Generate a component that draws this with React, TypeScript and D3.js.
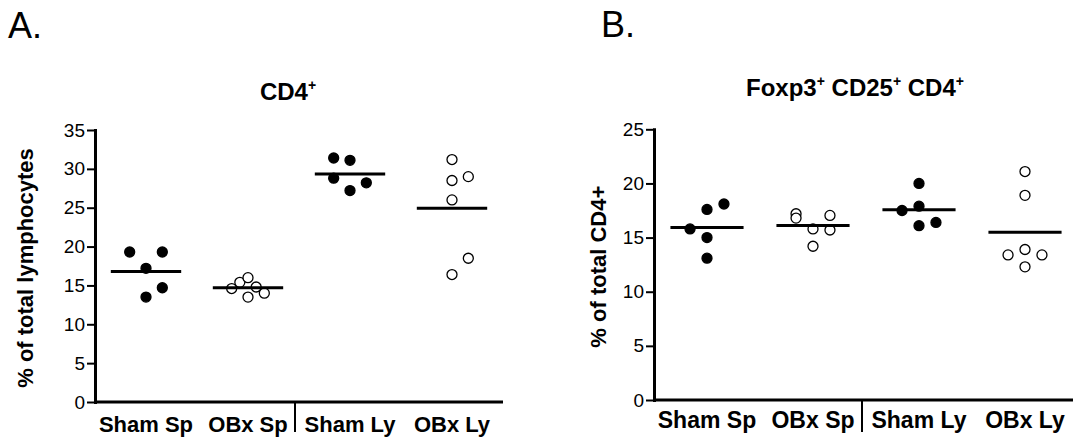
import React, { useEffect, useRef } from 'react';
import * as d3 from 'd3';

const WIDTH = 1073;
const HEIGHT = 438;
const FONT = '"Liberation Sans", Arial, Helvetica, sans-serif';

const GROUPS = ['Sham Sp', 'OBx Sp', 'Sham Ly', 'OBx Ly'];
const HOLLOW = [false, true, false, true];

// panel A: CD4+ (% of total lymphocytes)
const CD4_SHAM_SP = [19.3, 19.3, 17.2, 13.5, 14.7];
const CD4_OBX_SP = [14.6, 15.4, 16.0, 14.8, 14.0, 13.5];
const CD4_SHAM_LY = [31.4, 31.1, 28.8, 28.2, 27.2];
const CD4_OBX_LY = [31.2, 29.0, 28.5, 26.0, 18.5, 16.4];
// horizontal slot of each point (Prism-style spreading)
const CD4_SHAM_SP_SLOT = [-2, 2, 0, 0, 2];
const CD4_OBX_SP_SLOT = [-2, -1, 0, 1, 2, 0];
const CD4_SHAM_LY_SLOT = [-2, 0, -2, 2, 0];
const CD4_OBX_LY_SLOT = [0, 2, 0, 0, 2, 0];

// panel B: Foxp3+ CD25+ CD4+ (% of total CD4+)
const TREG_SHAM_SP = [15.8, 17.6, 18.1, 15.0, 13.1];
const TREG_OBX_SP = [17.2, 16.8, 17.05, 15.8, 15.7, 14.2];
const TREG_SHAM_LY = [20.0, 17.9, 17.5, 16.1, 16.4];
const TREG_OBX_LY = [21.1, 18.9, 13.9, 13.4, 13.4, 12.3];
const TREG_SHAM_SP_SLOT = [-2, 0, 2, 0, 0];
const TREG_OBX_SP_SLOT = [-2, -2, 2, 0, 2, 0];
const TREG_SHAM_LY_SLOT = [0, 0, -2, 0, 2];
const TREG_OBX_LY_SLOT = [0, 0, 0, -2, 2, 0];

const CD4_TICKS = [0, 5, 10, 15, 20, 25, 30, 35];
const TREG_TICKS = [0, 5, 10, 15, 20, 25];

const PANELS = [
  {
    letter: 'A.', letterX: 8, letterY: 38,
    title: [['CD4', '+']], titleY: 100,
    yLabel: '% of total lymphocytes', yLabelX: 33,
    x0: 95, x1: 503, top: 130, bottom: 402,
    ticks: CD4_TICKS, xFont: 22, xLabelDy: 30,
    values: [CD4_SHAM_SP, CD4_OBX_SP, CD4_SHAM_LY, CD4_OBX_LY],
    slots: [CD4_SHAM_SP_SLOT, CD4_OBX_SP_SLOT, CD4_SHAM_LY_SLOT, CD4_OBX_LY_SLOT],
  },
  {
    letter: 'B.', letterX: 601, letterY: 37,
    title: [['Foxp3', '+'], [' CD25', '+'], [' CD4', '+']], titleY: 96,
    yLabel: '% of total CD4+', yLabelX: 606,
    x0: 654, x1: 1078, top: 129.3, bottom: 400,
    ticks: TREG_TICKS, xFont: 23, xLabelDy: 28,
    values: [TREG_SHAM_SP, TREG_OBX_SP, TREG_SHAM_LY, TREG_OBX_LY],
    slots: [TREG_SHAM_SP_SLOT, TREG_OBX_SP_SLOT, TREG_SHAM_LY_SLOT, TREG_OBX_LY_SLOT],
  },
];

const drawPanel = (svg, p) => {
  const x = d3.scaleBand().domain(GROUPS).range([p.x0, p.x1]);
  const y = d3.scaleLinear()
    .domain([0, d3.max(p.ticks)])
    .range([p.bottom, p.top]);
  const bw = x.bandwidth();
  const slot = bw * 0.08;

  const g = svg.append('g');

  g.append('text')
    .attr('x', p.letterX)
    .attr('y', p.letterY)
    .attr('font-size', 36)
    .text(p.letter);

  // title with superscripts
  const title = g.append('text')
    .attr('x', (p.x0 + p.x1) / 2 - 11)
    .attr('y', p.titleY)
    .attr('text-anchor', 'middle')
    .attr('font-size', 24)
    .attr('font-weight', 'bold')
    .style('white-space', 'pre');
  p.title.forEach(([base, sup], i) => {
    title.append('tspan').attr('dy', i === 0 ? 0 : 10).text(base);
    title.append('tspan').attr('dy', -10).attr('font-size', 14).text(sup);
  });

  g.append('text')
    .attr('transform', `translate(${p.yLabelX}, ${(p.top + p.bottom) / 2 + 2}) rotate(-90)`)
    .attr('text-anchor', 'middle')
    .attr('font-size', 22)
    .attr('font-weight', 'bold')
    .text(p.yLabel);

  g.append('g')
    .attr('transform', `translate(${p.x0}, 0)`)
    .call(d3.axisLeft(y)
      .tickValues(p.ticks)
      .tickSize(8)
      .tickSizeOuter(0)
      .tickPadding(2)
    )
    .call(a => a.select('.domain').attr('stroke-width', 3).attr('stroke-linecap', 'square'))
    .call(a => a.selectAll('.tick line').attr('stroke-width', 2))
    .call(a => a.selectAll('.tick text')
      .attr('font-size', 19)
      .attr('font-family', FONT)
      .attr('fill', '#000'));

  g.append('line')
    .attr('x1', p.x0)
    .attr('x2', p.x1)
    .attr('y1', y(0))
    .attr('y2', y(0))
    .attr('stroke', '#000')
    .attr('stroke-width', 3);

  // divider between spleen and lymph node groups
  const divX = x(GROUPS[2]) - 4;
  g.append('line')
    .attr('x1', divX)
    .attr('x2', divX)
    .attr('y1', y(0))
    .attr('y2', 432)
    .attr('stroke', '#000')
    .attr('stroke-width', 2);

  g.selectAll('.xlabel')
    .data(GROUPS)
    .enter()
    .append('text')
    .attr('x', d => x(d) + bw / 2)
    .attr('y', y(0) + p.xLabelDy)
    .attr('text-anchor', 'middle')
    .attr('font-size', p.xFont)
    .attr('font-weight', 'bold')
    .text(d => d);

  GROUPS.forEach((grp, i) => {
    const cx = x(grp) + bw / 2;
    const vals = p.values[i];
    const pts = vals.map((v, j) => ({ v, s: p.slots[i][j] }));

    g.selectAll(`.pt${i}`)
      .data(pts)
      .enter()
      .append('circle')
      .attr('cx', d => cx + d.s * slot)
      .attr('cy', d => y(d.v))
      .attr('r', 5)
      .attr('fill', HOLLOW[i] ? '#fff' : '#000')
      .attr('stroke', '#000')
      .attr('stroke-width', 1.3);

    const m = d3.mean(vals);
    g.append('line')
      .attr('x1', cx - bw * 0.345)
      .attr('x2', cx + bw * 0.345)
      .attr('y1', y(m))
      .attr('y2', y(m))
      .attr('stroke', '#000')
      .attr('stroke-width', 3);
  });
};

export default function App() {
  const ref = useRef(null);

  useEffect(() => {
    const svg = d3.select(ref.current);
    svg.selectAll('*').remove();
    PANELS.forEach(p => drawPanel(svg, p));
  }, []);

  return (
    <svg
      ref={ref}
      width={WIDTH}
      height={HEIGHT}
      viewBox={`0 0 ${WIDTH} ${HEIGHT}`}
      fontFamily={FONT}
      style={{ position: 'absolute', left: 0, top: 0, background: '#fff' }}
    />
  );
}
